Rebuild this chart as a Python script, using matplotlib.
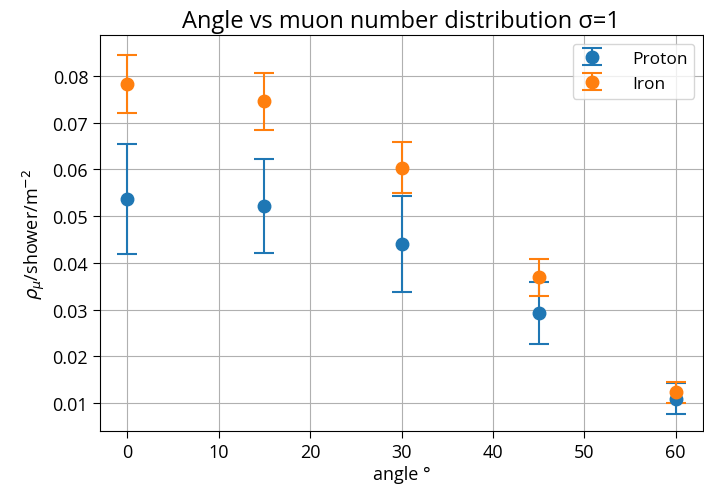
import matplotlib
matplotlib.use("Agg")
import matplotlib.pyplot as plt

plt.rcParams['font.family'] = ['Open Sans', 'DejaVu Sans']

angles = [0, 15, 30, 45, 60]
proton = [0.0537, 0.0522, 0.0440, 0.0293, 0.0109]
proton_err = [0.0118, 0.0100, 0.0103, 0.0066, 0.0033]
iron = [0.0783, 0.0746, 0.0604, 0.0369, 0.0123]
iron_err = [0.0062, 0.0061, 0.0054, 0.0040, 0.0022]

fig = plt.figure(figsize=(7.04, 4.89), dpi=100)
ax = fig.add_axes([100/704, 57/489, 603/704, 396/489])
ax.errorbar(angles, proton, yerr=proton_err, fmt='o', capsize=7, markersize=9,
            elinewidth=1.5, capthick=1.5, label='Proton')
ax.errorbar(angles, iron, yerr=iron_err, fmt='o', capsize=7, markersize=9,
            elinewidth=1.5, capthick=1.5, label='Iron')
ax.set_ylim(0.004, 0.0888)
ax.set_xticks([0, 10, 20, 30, 40, 50, 60])
ax.set_yticks([0.01, 0.02, 0.03, 0.04, 0.05, 0.06, 0.07, 0.08])
ax.tick_params(labelsize=13, length=5)
ax.grid(True)
ax.set_xlabel('angle °', fontsize=13, labelpad=3)
ax.set_ylabel(r'$\rho_\mu$/shower/m$^{-2}$', fontsize=13)
ax.set_title('Angle vs muon number distribution σ=1', fontsize=17, pad=6)
ax.legend(loc='upper right', fontsize=12.5, handlelength=1.4, handletextpad=1.6)
fig.savefig('out.png', dpi=100)
